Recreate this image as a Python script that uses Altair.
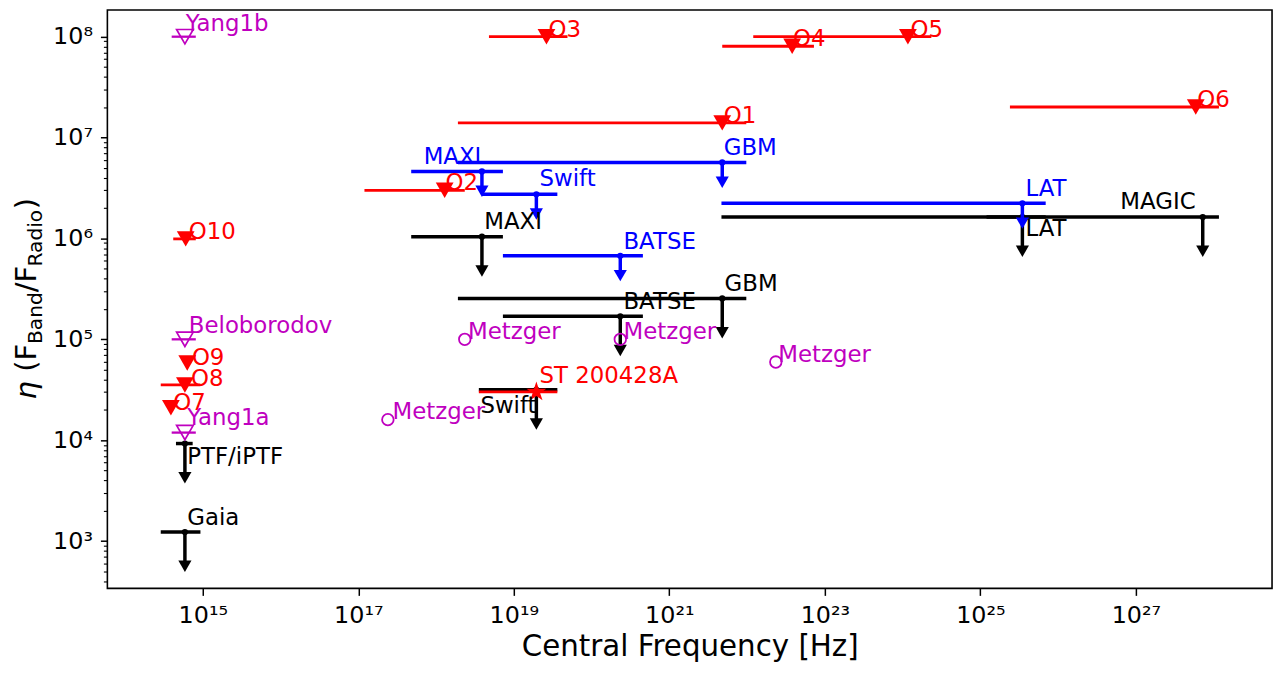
import altair as alt
import pandas as pd

FONT = "DejaVu Sans"

# ---------------- data ----------------
# Red observational upper limits (filled down-triangles); band edges in Hz
obs_names = ["O1", "O2", "O3", "O4", "O5", "O6", "O7", "O8", "O9", "O10"]
obs_freq = [4.79e21, 1.29e18, 2.63e19, 3.80e22, 1.17e24, 5.89e27, 3.89e14, 5.89e14, 6.31e14, 6.03e14]
obs_eta = [1.40e7, 3.0e6, 1.0e8, 8.04e7, 1.0e8, 2.01e7, 2.10e4, 3.53e4, 5.82e4, 9.9e5]
obs_lo = [1.91e18, 1.20e17, 4.79e18, 4.79e21, 1.20e22, 2.40e25, None, 2.88e14, None, 4.17e14]
obs_hi = [9.77e21, 2.34e18, 4.90e19, 7.24e22, 2.34e24, 1.17e28, None, 9.33e14, None, 8.13e14]

# ST 200428A (red star)
st_freq = [1.95e19]
st_eta = [3.01e4]
st_lo = [3.55e18]
st_hi = [3.63e19]

# Blue upper limits
blue_names = ["MAXI", "GBM", "Swift", "BATSE", "LAT"]
blue_freq = [3.89e18, 4.79e21, 1.95e19, 2.34e20, 3.47e25]
blue_eta = [4.61e6, 5.66e6, 2.74e6, 6.73e5, 2.23e6]
blue_lo = [4.79e17, 1.91e18, 3.89e18, 7.24e18, 4.68e21]
blue_hi = [7.24e18, 9.77e21, 3.63e19, 4.57e20, 6.92e25]

# Black upper limits
black_names = ["MAXI", "GBM", "BATSE", "Swift", "LAT", "MAGIC", "PTF/iPTF", "Gaia"]
black_freq = [3.89e18, 4.79e21, 2.34e20, 1.95e19, 3.47e25, 7.24e27, 5.89e14, 5.89e14]
black_eta = [1.04e6, 2.54e5, 1.69e5, 3.16e4, 1.63e6, 1.63e6, 9.27e3, 1.23e3]
black_lo = [4.79e17, 1.91e18, 7.24e18, 3.55e18, 4.68e21, 1.20e25, 4.52e14, 2.88e14]
black_hi = [7.24e18, 9.77e21, 4.57e20, 3.63e19, 6.92e25, 1.17e28, 7.41e14, 9.33e14]

# Magenta model predictions (open down-triangles)
model_names = ["Yang1b", "Beloborodov", "Yang1a"]
model_freq = [5.89e14, 5.89e14, 5.89e14]
model_eta = [1.0e8, 1.0e5, 1.19e4]
model_lo = [3.98e14, 3.98e14, 3.98e14]
model_hi = [8.13e14, 8.13e14, 8.13e14]

# Metzger predictions (open circles)
metzger_freq = [2.40e17, 2.34e18, 2.34e20, 2.34e22]
metzger_eta = [1.6e4, 1.0e5, 1.0e5, 5.96e4]

# Text annotations (left end / baseline, in data units)
label_text = ["Yang1b", "O3", "O4", "O5", "O6", "O1", "GBM", "MAXI", "O2", "Swift",
              "MAXI", "O10", "BATSE", "LAT", "MAGIC", "LAT", "GBM", "BATSE",
              "Metzger", "Metzger", "Metzger", "Metzger", "ST 200428A", "Swift",
              "Beloborodov", "O9", "O8", "O7", "Yang1a", "PTF/iPTF", "Gaia"]
label_x = [6.03e14, 2.80e19, 3.89e22, 1.26e24, 6.17e27, 5.01e21, 5.01e21, 6.92e17, 1.32e18, 2.14e19,
           4.17e18, 6.61e14, 2.57e20, 3.80e25, 6.31e26, 3.80e25, 5.13e21, 2.57e20,
           2.57e18, 2.57e20, 2.51e22, 2.75e17, 2.14e19, 3.72e18,
           6.61e14, 7.24e14, 7.08e14, 4.17e14, 6.31e14, 6.31e14, 6.31e14]
label_y = [1.13e8, 9.84e7, 8.04e7, 1.0e8, 2.01e7, 1.40e7, 6.79e6, 5.41e6, 3.0e6, 3.29e6,
           1.24e6, 9.89e5, 7.89e5, 2.62e6, 1.95e6, 1.06e6, 3.04e5, 2.02e5,
           1.0e5, 1.0e5, 5.96e4, 1.64e4, 3.70e4, 1.87e4,
           1.15e5, 5.56e4, 3.45e4, 2.00e4, 1.43e4, 5.77e3, 1.45e3]
label_group = ["model", "obs", "obs", "obs", "obs", "obs", "blue", "blue", "obs", "blue",
               "black", "obs", "blue", "blue", "black", "black", "black", "black",
               "model", "model", "model", "model", "obs", "black",
               "model", "obs", "obs", "obs", "model", "black", "black"]

# ---------------- styling ----------------
RED, BLUE, BLACK, MAG = "#ff0000", "#0000ff", "#000000", "#bf00bf"
BLACK_ARROW_DEC = 0.339   # arrow length (decades) to arrow-head centre
BLUE_ARROW_DEC = 0.196

xscale = alt.Scale(type="log", domain=[10 ** 13.773, 10 ** 28.751], nice=False)
yscale = alt.Scale(type="log", domain=[10 ** 2.531, 10 ** 8.264], nice=False)

SUP = str.maketrans("0123456789", "⁰¹²³⁴⁵⁶⁷⁸⁹")
LG = "(log(datum.value)/LN10)"
MAJOR = f"abs({LG} - round({LG})) < 0.001"


def pow_label_expr(exps):
    expr = "''"
    for k in exps:
        expr = f"(abs({LG} - {k}) < 0.001) ? '10{str(k).translate(SUP)}' : {expr}"
    return expr


x_ticks = [10.0 ** k for k in range(15, 28, 2)]
y_ticks = []
for d in range(2, 9):
    for m in range(1, 10):
        v = m * 10.0 ** d
        if 10 ** 2.531 <= v <= 10 ** 8.264:
            y_ticks.append(v)

xaxis = alt.Axis(values=x_ticks, labelExpr=pow_label_expr(range(15, 28, 2)), grid=False, domain=False,
                 tickSize=7, tickWidth=1.5, tickColor="black", labelFont=FONT, labelFontSize=24,
                 labelColor="black", labelPadding=8, labelOverlap=False, labelFlush=False,
                 title="Central Frequency [Hz]", titleFont=FONT, titleFontSize=29.5,
                 titleFontWeight="normal", titleColor="black", titleX=586, titleY=68,
                 titleBaseline="alphabetic", titleAlign="center")
yaxis = alt.Axis(values=y_ticks, labelExpr=pow_label_expr(range(3, 9)), grid=False, domain=False,
                 tickSize={"condition": {"test": MAJOR, "value": 7}, "value": 4},
                 tickWidth={"condition": {"test": MAJOR, "value": 1.5}, "value": 1.1},
                 tickColor="black", labelFont=FONT, labelFontSize=24, labelColor="black",
                 labelPadding=8, labelOverlap=False, labelFlush=False, title="")


def X(f):
    return alt.X(f, type="quantitative", scale=xscale, axis=xaxis)


def Y(f):
    return alt.Y(f, type="quantitative", scale=yscale, axis=yaxis)


def band_df(freq, eta, lo, hi):
    rows = [dict(f=f, eta=e, lo=l, hi=h) for f, e, l, h in zip(freq, eta, lo, hi) if l is not None]
    return pd.DataFrame(rows)


def limit_df(freq, eta, dec):
    return pd.DataFrame({"f": freq, "eta": eta, "end": [e / 10 ** dec for e in eta]})


black_bands = band_df(black_freq, black_eta, black_lo, black_hi)
blue_bands = band_df(blue_freq, blue_eta, blue_lo, blue_hi)
red_bands = pd.concat([band_df(obs_freq, obs_eta, obs_lo, obs_hi), band_df(st_freq, st_eta, st_lo, st_hi)])
model_bands = band_df(model_freq, model_eta, model_lo, model_hi)
black_lim = limit_df(black_freq, black_eta, BLACK_ARROW_DEC)
blue_lim = limit_df(blue_freq, blue_eta, BLUE_ARROW_DEC)
obs_df = pd.DataFrame({"f": obs_freq, "eta": obs_eta, "name": obs_names})
st_df = pd.DataFrame({"f": st_freq, "eta": st_eta})
model_df = pd.DataFrame({"f": model_freq, "eta": model_eta, "name": model_names})
metz_df = pd.DataFrame({"f": metzger_freq, "eta": metzger_eta})
labels_df = pd.DataFrame({"text": label_text, "x": label_x, "y": label_y, "group": label_group})

STAR = "M0,-1L0.2245,-0.309L0.951,-0.309L0.363,0.118L0.588,0.809L0,0.382L-0.588,0.809L-0.363,0.118L-0.951,-0.309L-0.2245,-0.309Z"


def limit_layers(bands, lim, color):
    return [
        alt.Chart(bands).mark_rule(color=color, strokeWidth=3.5).encode(x=X("lo"), x2="hi", y=Y("eta")),
        alt.Chart(lim).mark_rule(color=color, strokeWidth=3.5).encode(x=X("f"), y=Y("eta"), y2="end"),
        alt.Chart(lim).mark_point(shape="triangle-down", filled=True, color=color, size=175, opacity=1)
        .encode(x=X("f"), y=Y("end")),
        alt.Chart(lim).mark_circle(color=color, size=40, opacity=1).encode(x=X("f"), y=Y("eta")),
    ]


layers = []
layers += limit_layers(black_bands, black_lim, BLACK)
layers += limit_layers(blue_bands, blue_lim, BLUE)
layers.append(alt.Chart(red_bands).mark_rule(color=RED, strokeWidth=2.8).encode(x=X("lo"), x2="hi", y=Y("eta")))
layers.append(alt.Chart(obs_df).mark_point(shape="triangle-down", filled=True, color=RED, size=320, opacity=1)
              .encode(x=X("f"), y=Y("eta")))
layers.append(alt.Chart(st_df).mark_point(shape=STAR, filled=True, color=RED, size=440, opacity=1)
              .encode(x=X("f"), y=Y("eta")))
layers.append(alt.Chart(model_bands).mark_rule(color=MAG, strokeWidth=2.3).encode(x=X("lo"), x2="hi", y=Y("eta")))
layers.append(alt.Chart(model_df).mark_point(shape="triangle-down", filled=False, color=MAG, size=280,
                                             strokeWidth=1.7, opacity=1).encode(x=X("f"), y=Y("eta")))
layers.append(alt.Chart(metz_df).mark_point(shape="circle", filled=False, color=MAG, size=135,
                                            strokeWidth=1.8, opacity=1).encode(x=X("f"), y=Y("eta")))
layers.append(alt.Chart(labels_df).mark_text(align="left", baseline="alphabetic", font=FONT, fontSize=23)
              .encode(x=X("x"), y=Y("y"), text="text:N",
                      color=alt.Color("group:N", legend=None,
                                      scale=alt.Scale(domain=["obs", "blue", "black", "model"],
                                                      range=[RED, BLUE, BLACK, MAG]))))

# y-axis title composed of pieces (subscripts)
title_parts = [("η", 29, "italic", -72, 392), ("(F", 29, "normal", -72, 364),
               ("Band", 20.3, "normal", -66, 336), ("/F", 29, "normal", -72, 284),
               ("Radio", 20.3, "normal", -66, 258), (")", 29, "normal", -72, 200.5)]
for txt, fs, style, px, py in title_parts:
    layers.append(alt.Chart(pd.DataFrame({"t": [txt]})).mark_text(
        angle=270, align="left", baseline="alphabetic", font=FONT, fontSize=fs, fontStyle=style, color="black")
        .encode(text="t:N", x=alt.value(px), y=alt.value(py)))

chart = alt.layer(*layers).properties(
    width=1172, height=582,
    background="white",
    autosize=alt.AutoSizeParams(type="none"),
    padding={"left": 100, "top": 0, "right": 6, "bottom": 75},
).configure_view(stroke="black", strokeWidth=1.6)

chart.save("out.html", embed_options={"renderer": "svg", "actions": False})
